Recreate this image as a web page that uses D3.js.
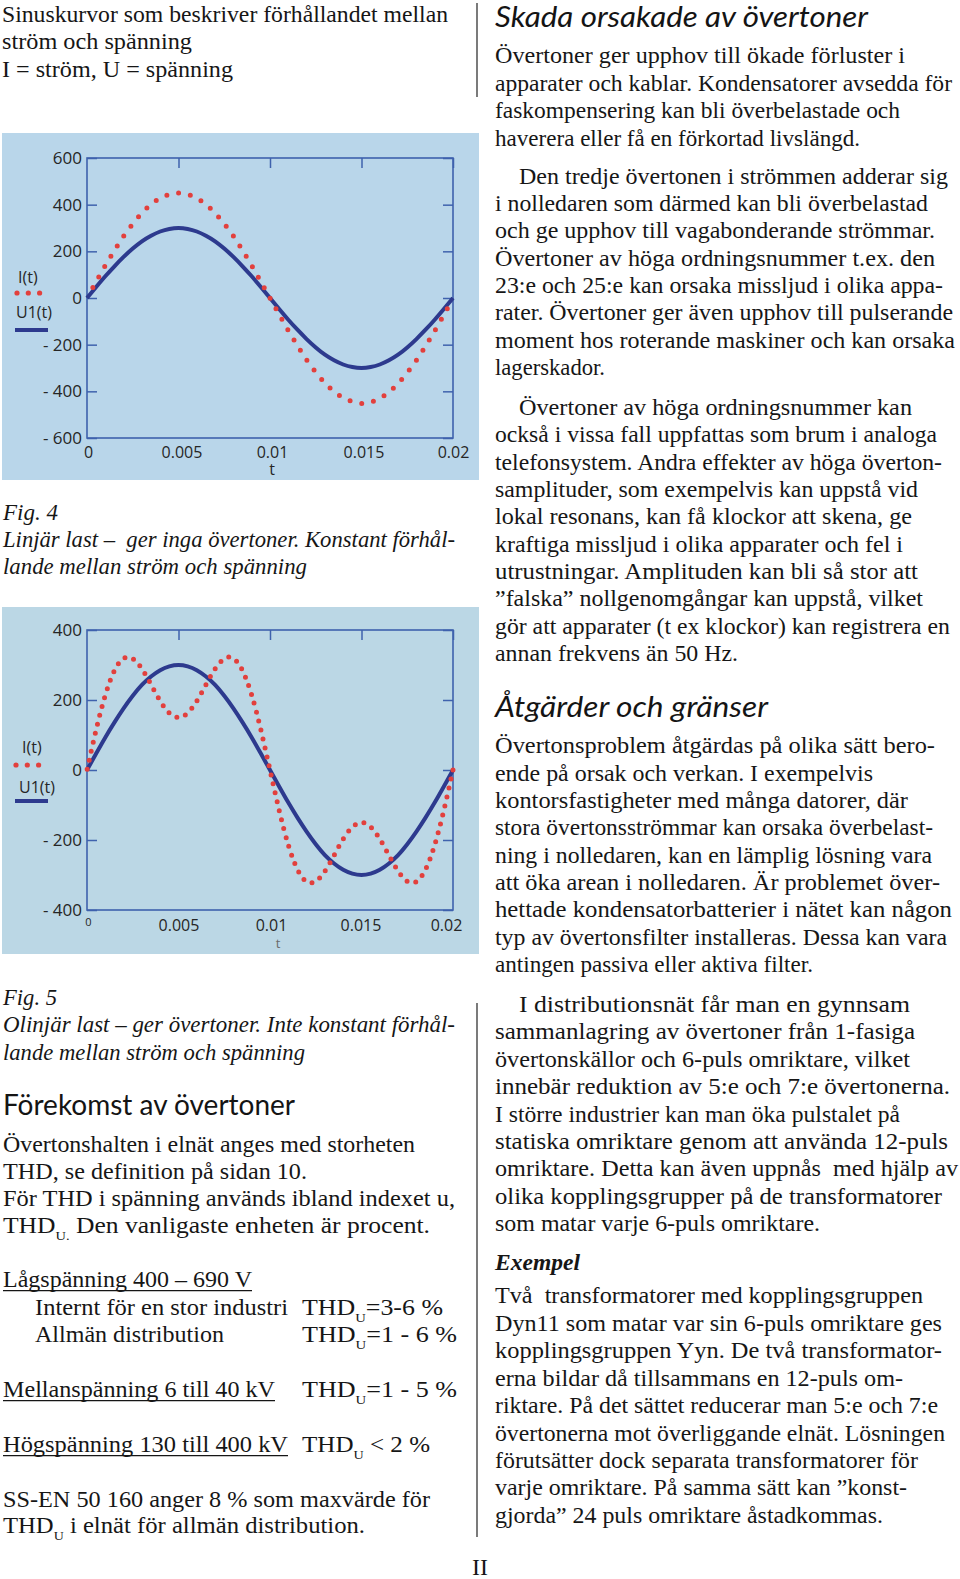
<!DOCTYPE html>
<html><head><meta charset="utf-8">
<script src="https://cdn.jsdelivr.net/npm/d3@7"></script>
<style>
body{margin:0;background:#fff;}
svg{display:block;}
.body{font-family:"Liberation Serif",serif;font-size:23px;fill:#161616;}
.ital{font-family:"Liberation Serif",serif;font-style:italic;font-size:23px;fill:#161616;}
.bi{font-family:"Liberation Serif",serif;font-style:italic;font-weight:bold;font-size:23px;fill:#161616;}
.head{font-family:Lato,"Open Sans",sans-serif;font-size:28px;fill:#141414;}
</style></head><body>
<svg id="page" width="960" height="1579"></svg>
<script>
// ---------------- chart data ----------------
const tValues = [0,0.0005,0.001,0.0015,0.002,0.0025,0.003,0.0035,0.004,0.0045,0.005,
  0.0055,0.006,0.0065,0.007,0.0075,0.008,0.0085,0.009,0.0095,0.01,
  0.0105,0.011,0.0115,0.012,0.0125,0.013,0.0135,0.014,0.0145,0.015,
  0.0155,0.016,0.0165,0.017,0.0175,0.018,0.0185,0.019,0.0195,0.02];
// Fig. 4 – linear load
const fig4Current = [0,70,139,204,265,318,364,401,428,444,450,444,428,401,364,318,265,204,139,70,0,
  -70,-139,-204,-265,-318,-364,-401,-428,-444,-452,-446,-430,-403,-366,-320,-267,-206,-141,-72,-2];
const fig4Voltage = [0,47,93,136,176,212,243,267,285,296,300,296,285,267,243,212,176,136,93,47,0,
  -47,-93,-136,-176,-212,-243,-267,-285,-296,-300,-296,-285,-267,-243,-212,-176,-136,-93,-47,0];
// Fig. 5 – non-linear load
const fig5Current = [0,115,214,284,319,318,289,244,197,163,150,163,197,244,289,318,319,284,214,115,0,
  -115,-214,-284,-319,-318,-289,-244,-197,-163,-150,-163,-197,-244,-289,-318,-319,-284,-214,-115,0];
const fig5Voltage = [0,47,93,136,176,212,243,267,285,296,300,296,285,267,243,212,176,136,93,47,0,
  -47,-93,-136,-176,-212,-243,-267,-285,-296,-300,-296,-285,-267,-243,-212,-176,-136,-93,-47,0];
const fig4YTicks = [600,400,200,0,-200,-400,-600];
const fig5YTicks = [400,200,0,-200,-400];
const xTickValues = [0,0.005,0.01,0.015,0.02];
const xTickLabels = ["0","0.005","0.01","0.015","0.02"];
const seriesNames = ["I(t)","U1(t)"];
const axisTitle = "t";

// ---------------- page text ----------------
const introLines = ["Sinuskurvor som beskriver förhållandet mellan","ström och spänning","I = ström, U = spänning"];
const fig4Caption = ["Fig. 4","Linjär last –  ger inga övertoner. Konstant förhål-","lande mellan ström och spänning"];
const fig5Caption = ["Fig. 5","Olinjär last – ger övertoner. Inte konstant förhål-","lande mellan ström och spänning"];
const headLeft = "Förekomst av övertoner";
const leftBody = ["Övertonshalten i elnät anges med storheten","THD, se definition på sidan 10.","För THD i spänning används ibland indexet u,"];
const leftBody4 = [" Den vanligaste enheten är procent."];
const thdLabels = ["Lågspänning 400 – 690 V","Internt för en stor industri","Allmän distribution","Mellanspänning 6 till 40 kV","Högspänning 130 till 400 kV"];
const thdValues = [null,"=3-6 %","=1 - 6 %","=1 - 5 %","< 2 %"];
const stdLine = "SS-EN 50 160 anger 8 % som maxvärde för";
const stdLine2 = " i elnät för allmän distribution.";
const head1 = "Skada orsakade av övertoner";
const blockA = ["Övertoner ger upphov till ökade förluster i","apparater och kablar. Kondensatorer avsedda för","faskompensering kan bli överbelastade och","haverera eller få en förkortad livslängd."];
const blockB = ["Den tredje övertonen i strömmen adderar sig","i nolledaren som därmed kan bli överbelastad","och ge upphov till vagabonderande strömmar.","Övertoner av höga ordningsnummer t.ex. den","23:e och 25:e kan orsaka missljud i olika appa-","rater. Övertoner ger även upphov till pulserande","moment hos roterande maskiner och kan orsaka","lagerskador."];
const blockC = ["Övertoner av höga ordningsnummer kan","också i vissa fall uppfattas som brum i analoga","telefonsystem. Andra effekter av höga överton-","samplituder, som exempelvis kan uppstå vid","lokal resonans, kan få klockor att skena, ge","kraftiga missljud i olika apparater och fel i","utrustningar. Amplituden kan bli så stor att","”falska” nollgenomgångar kan uppstå, vilket","gör att apparater (t ex klockor) kan registrera en","annan frekvens än 50 Hz."];
const head2 = "Åtgärder och gränser";
const blockD = ["Övertonsproblem åtgärdas på olika sätt bero-","ende på orsak och verkan. I exempelvis","kontorsfastigheter med många datorer, där","stora övertonsströmmar kan orsaka överbelast-","ning i nolledaren, kan en lämplig lösning vara","att öka arean i nolledaren. Är problemet över-","hettade kondensatorbatterier i nätet kan någon","typ av övertonsfilter installeras. Dessa kan vara","antingen passiva eller aktiva filter."];
const blockE = ["I distributionsnät får man en gynnsam","sammanlagring av övertoner från 1-fasiga","övertonskällor och 6-puls omriktare, vilket","innebär reduktion av 5:e och 7:e övertonerna.","I större industrier kan man öka pulstalet på","statiska omriktare genom att använda 12-puls","omriktare. Detta kan även uppnås  med hjälp av","olika kopplingsgrupper på de transformatorer","som matar varje 6-puls omriktare."];
const exHead = "Exempel";
const blockF = ["Två  transformatorer med kopplingsgruppen","Dyn11 som matar var sin 6-puls omriktare ges","kopplingsgruppen Yyn. De två transformator-","erna bildar då tillsammans en 12-puls om-","riktare. På det sättet reducerar man 5:e och 7:e","övertonerna mot överliggande elnät. Lösningen","förutsätter dock separata transformatorer för","varje omriktare. På samma sätt kan ”konst-","gjorda” 24 puls omriktare åstadkommas."];
const pageNo = "II";

// ---------------- drawing ----------------
const svg = d3.select("#page");
const NAVY = "#2d3a8e", RED = "#e2403d", FRAME = "#3f62ad";

function drawChart(cfg){
  const g = svg.append("g");
  g.append("rect").attr("x",cfg.bg[0]).attr("y",cfg.bg[1]).attr("width",cfg.bg[2]).attr("height",cfg.bg[3]).attr("fill",cfg.bgColor);
  const x = d3.scaleLinear().domain([0,0.02]).range([cfg.left,cfg.right]);
  const y = d3.scaleLinear().domain(cfg.yDomain).range([cfg.bottom,cfg.top]);
  const fmt = d => d<0 ? "- "+Math.abs(d) : String(d);
  const styleAxis = sel => { sel.select(".domain").remove(); sel.selectAll(".tick line").attr("stroke",FRAME).attr("stroke-width",1.5); };
  const ly = g.append("g").attr("transform",`translate(${cfg.left},0)`)
    .call(d3.axisLeft(y).tickValues(cfg.yTicks).tickSizeInner(-10).tickSizeOuter(0).tickPadding(5).tickFormat(fmt))
    .call(styleAxis);
  ly.selectAll(".tick text").attr("style","white-space:pre").attr("font-family","'Open Sans',sans-serif").attr("font-size",17).attr("fill","#262626");
  g.append("g").attr("transform",`translate(${cfg.right},0)`)
    .call(d3.axisRight(y).tickValues(cfg.yTicks).tickSizeInner(-10).tickSizeOuter(0).tickFormat(""))
    .call(styleAxis);
  g.append("g").attr("transform",`translate(0,${cfg.top})`)
    .call(d3.axisTop(x).tickValues(xTickValues.slice(1)).tickSizeInner(-10).tickSizeOuter(0).tickFormat(""))
    .call(styleAxis);
  const bx = g.append("g").attr("transform",`translate(0,${cfg.bottom})`)
    .call(d3.axisBottom(x).tickValues(xTickValues).tickSize(0).tickPadding(cfg.xPad).tickFormat((d,i)=>xTickLabels[i]))
    .call(styleAxis);
  bx.selectAll(".tick text").attr("dx",(d,i)=> i===0 ? 1 : cfg.xdx[i])
    .attr("font-family","'Open Sans',sans-serif").attr("font-size",16).attr("fill","#262626");
  if (cfg.smallZero) bx.selectAll(".tick text").filter((d,i)=>i===0).attr("font-size",11).attr("dy","0.5em");
  g.append("rect").attr("x",cfg.left).attr("y",cfg.top).attr("width",cfg.right-cfg.left).attr("height",cfg.bottom-cfg.top)
    .attr("fill","none").attr("stroke",FRAME).attr("stroke-width",1.6);
  const line = d3.line().x((d,i)=>x(tValues[i])).y(d=>y(d)).curve(d3.curveNatural);
  g.append("path").datum(cfg.voltage).attr("d",line).attr("fill","none").attr("stroke",NAVY).attr("stroke-width",4);
  const cp = g.append("path").datum(cfg.current).attr("d",line).attr("fill","none").attr("stroke",RED)
    .attr("stroke-width",5).attr("stroke-linecap","round");
  const L = cp.node().getTotalLength();
  const sp = (L - 2*cfg.dotEnd)/(cfg.dotCount-1);
  cp.attr("stroke-dasharray",`0 ${sp}`).attr("stroke-dashoffset", sp - cfg.dotEnd);
  // legend
  const lg = cfg.legend;
  g.append("text").attr("x",lg.ix).attr("y",lg.iy).text(seriesNames[0]).attr("font-family","'Open Sans',sans-serif").attr("font-size",16).attr("fill","#262626");
  g.selectAll(".lgdot").data([0,1,2]).join("circle").attr("cx",d=>lg.dx+d*11.3).attr("cy",lg.dy).attr("r",2.6).attr("fill",RED);
  g.append("text").attr("x",lg.ux).attr("y",lg.uy).text(seriesNames[1]).attr("font-family","'Open Sans',sans-serif").attr("font-size",16).attr("fill","#262626");
  g.append("line").attr("x1",lg.lx).attr("x2",lg.lx+33).attr("y1",lg.ly).attr("y2",lg.ly).attr("stroke",NAVY).attr("stroke-width",4);
  g.append("text").attr("x",cfg.tx).attr("y",cfg.ty).attr("text-anchor","middle").text(axisTitle)
    .attr("font-family","'Open Sans',sans-serif").attr("font-size",cfg.tSize).attr("fill",cfg.tColor);
}

drawChart({bg:[2,133,477,347], bgColor:"#b9d6ea", left:87, right:453, top:158, bottom:438,
  yDomain:[-600,600], yTicks:fig4YTicks, xPad:9, xdx:[0,3,2,2,0], current:fig4Current, voltage:fig4Voltage,
  dotCount:47, dotEnd:12,
  legend:{ix:18,iy:283,dx:17,dy:293,ux:16,uy:318,lx:15,ly:330}, tx:272, ty:475, tSize:16, tColor:"#262626"});
drawChart({bg:[2,607,477,347], bgColor:"#bbd7e5", left:87, right:453, top:630, bottom:910,
  yDomain:[-400,400], yTicks:fig5YTicks, xPad:10, xdx:[0,0,1,-1,-7], current:fig5Current, voltage:fig5Voltage,
  dotCount:88, dotEnd:10, smallZero:true,
  legend:{ix:22,iy:753,dx:16,dy:765,ux:19,uy:793,lx:15,ly:801}, tx:278, ty:948, tSize:13, tColor:"#6a6a6a"});

// text helpers
function tl(x,y,str,w,cls){
  const t = svg.append("text").attr("x",x).attr("y",y).attr("class",cls).attr("style","white-space:pre").text(str);
  if (w) t.attr("textLength",w).attr("lengthAdjust","spacingAndGlyphs");
  return t;
}
function block(lines,x,y0,lh,widths,indent,cls){
  lines.forEach((s,i)=>{ const xi = x + (i===0 && indent ? indent : 0); tl(xi, y0+i*lh, s, widths[i], cls||"body"); });
}
function thd(x,y,sub,rest,w){
  const t = svg.append("text").attr("x",x).attr("y",y).attr("class","body").attr("style","white-space:pre");
  t.append("tspan").text("THD");
  t.append("tspan").attr("dy",7).attr("font-size",13).text(sub);
  t.append("tspan").attr("dy",-7).text(rest);
  if (w) t.attr("textLength",w).attr("lengthAdjust","spacingAndGlyphs");
}

// left column
block(introLines,2,21.7,27.5,[446,190,231]);
block(fig4Caption,3,519.5,27,[55,452,304],0,"ital");
block(fig5Caption,3,1005,27.3,[54,452,302],0,"ital");
tl(3,1115,headLeft,292,"head");
block(leftBody,3,1151.7,27.2,[412,304,452]);
thd(3,1233.3,"U.",leftBody4[0],427);
const thdY = [1286.7,1315,1341.7,1396.7,1451.7], thdX=[3,35,35,3,3], thdW=[249,253,189,272,285], thdVW=[0,141,155,155,128];
thdLabels.forEach((s,i)=>{
  tl(thdX[i],thdY[i],s,thdW[i],"body");
  if (i!==1 && i!==2) svg.append("line").attr("x1",thdX[i]).attr("x2",thdX[i]+thdW[i]).attr("y1",thdY[i]+4).attr("y2",thdY[i]+4).attr("stroke","#161616").attr("stroke-width",1.3);
  if (thdValues[i]) thd(302,thdY[i],"U",(thdValues[i][0]==="<"?" ":"")+thdValues[i],thdVW[i]);
});
tl(3,1506.7,stdLine,427,"body");
thd(3,1533.3,"U",stdLine2,362);

// right column
tl(495,27,head1,373,"head").attr("font-style","italic");
block(blockA,495,63.3,27.4,[410,457,405,365]);
block(blockB,495,183.7,27.33,[429,433,440,440,448,458,460,110],24);
block(blockC,495,415,27.33,[393,442,447,423,417,408,423,428,455,243],24);
tl(495,716.7,head2,273,"head").attr("font-style","italic");
block(blockD,495,753.3,27.33,[440,378,413,438,437,445,457,452,318]);
block(blockE,495,1012,27.4,[391,420,415,455,405,453,463,447,325],24);
tl(495,1270,exHead,85,"bi");
block(blockF,495,1303.3,27.45,[428,447,447,408,443,450,423,412,388]);

// dividers & page number
svg.append("line").attr("x1",477).attr("x2",477).attr("y1",3).attr("y2",97).attr("stroke","#333").attr("stroke-width",1.3);
svg.append("line").attr("x1",477).attr("x2",477).attr("y1",1003).attr("y2",1537).attr("stroke","#333").attr("stroke-width",1.3);
tl(472,1575,pageNo,16,"body").attr("font-size",16);
</script>
</body></html>
